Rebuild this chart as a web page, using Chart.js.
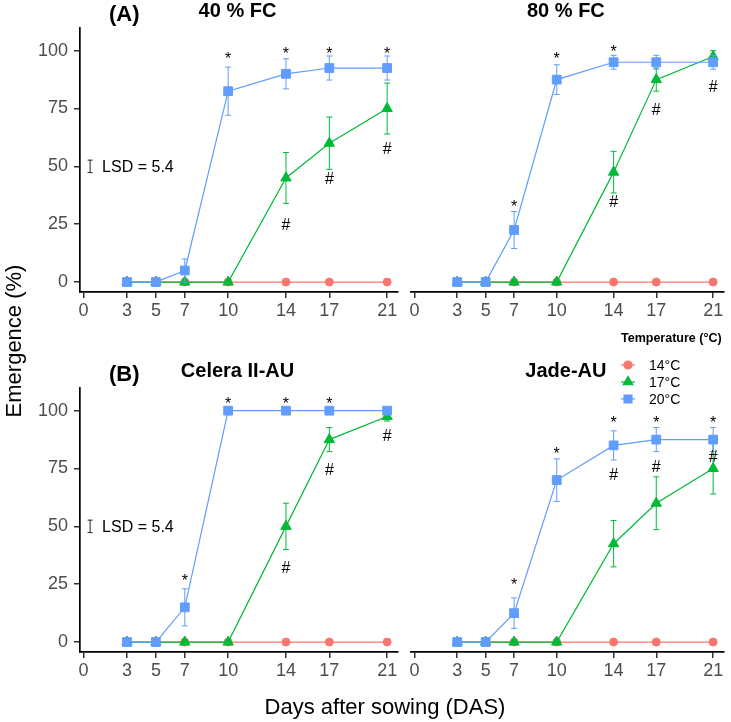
<!DOCTYPE html>
<html><head><meta charset="utf-8">
<script src="https://cdn.jsdelivr.net/npm/chart.js@4.4.1/dist/chart.umd.min.js"></script>
<style>
html,body{margin:0;padding:0;background:#fff;width:731px;height:722px;overflow:hidden}
canvas{position:absolute;left:0;top:0}
</style></head><body>
<canvas id="c0" width="731" height="722"></canvas>
<canvas id="c1" width="731" height="722"></canvas>
<canvas id="c2" width="731" height="722"></canvas>
<canvas id="c3" width="731" height="722"></canvas>
<script>
// ---------- data ----------
const days = [3, 5, 7, 10, 14, 17, 21];
const xTicks = [0, 3, 5, 7, 10, 14, 17, 21];
const yTicks = [0, 25, 50, 75, 100];
const seriesNames = ['14°C', '17°C', '20°C'];
const panelTags = ['(A)', '', '(B)', ''];
const panelTitles = ['40 % FC', '80 % FC', 'Celera II-AU', 'Jade-AU'];
const lsdValue = 5.4;
const lsdCenter = 50;

// (A) 40 % FC
const a14 = [0, 0, 0, 0, 0, 0, 0];
const a17 = [0, 0, 0, 0, 45, 60, 75];
const a20 = [0, 0, 5, 82.5, 90, 92.5, 92.5];
const a17Err = [0, 0, 0, 0, 11, 11.3, 11];
const a20Err = [0, 0, 5, 10.4, 6.5, 5.2, 5.2];
const aStarX = [10, 14, 17, 21];
const aStarY = [98.3, 100.4, 100.4, 100.4];
const aHashX = [14, 17, 21];
const aHashY = [24.8, 45, 58];

// 80 % FC
const b14 = [0, 0, 0, 0, 0, 0, 0];
const b17 = [0, 0, 0, 0, 47.5, 87.5, 97.5];
const b20 = [0, 0, 22.5, 87.5, 95, 95, 95];
const b17Err = [0, 0, 0, 0, 9, 5, 2.5];
const b20Err = [0, 0, 8, 6.4, 3, 3, 3];
const bStarX = [7, 10, 14];
const bStarY = [34.4, 98.3, 101.4];
const bHashX = [14, 17, 21];
const bHashY = [34.9, 74.5, 84.6];

// (B) Celera II-AU
const c14 = [0, 0, 0, 0, 0, 0, 0];
const c17 = [0, 0, 0, 0, 50, 87.5, 97.5];
const c20 = [0, 0, 15, 100, 100, 100, 100];
const c17Err = [0, 0, 0, 0, 10, 5.2, 2];
const c20Err = [0, 0, 8, 0, 0, 0, 0];
const cStarX = [7, 10, 14, 17];
const cStarY = [28.1, 104.6, 104.6, 104.6];
const cHashX = [14, 17, 21];
const cHashY = [32.5, 74.6, 89.5];

// Jade-AU
const d14 = [0, 0, 0, 0, 0, 0, 0];
const d17 = [0, 0, 0, 0, 42.5, 60, 75];
const d20 = [0, 0, 12.5, 70, 85, 87.5, 87.5];
const d17Err = [0, 0, 0, 0, 10, 11.4, 11];
const d20Err = [0, 0, 6.6, 9.2, 6.3, 5.2, 5.2];
const dStarX = [7, 10, 14, 17, 21];
const dStarY = [26.3, 83.3, 96.4, 96.4, 96.4];
const dHashX = [14, 17, 21];
const dHashY = [72.6, 75.8, 80.1];

// ---------- styling ----------
const FONT = "'Liberation Sans', Arial, Helvetica, sans-serif";
const COLORS = ['#F8766D', '#00BA38', '#619CFF'];
const STYLES = ['circle', 'triangle', 'rect'];
const RADII = [4, 6, 6.2];
const ORDERS = [2, 1, 0];
const MARK_FS = 16;

const panels = [
  {v: [a14, a17, a20], e: [null, a17Err, a20Err], sx: aStarX, sy: aStarY, hx: aHashX, hy: aHashY, lsd: true,
   area: {l: 80, r: 398, t: 28, b: 292}, yAxis: true},
  {v: [b14, b17, b20], e: [null, b17Err, b20Err], sx: bStarX, sy: bStarY, hx: bHashX, hy: bHashY, lsd: false,
   area: {l: 411, r: 729, t: 28, b: 292}, yAxis: false},
  {v: [c14, c17, c20], e: [null, c17Err, c20Err], sx: cStarX, sy: cStarY, hx: cHashX, hy: cHashY, lsd: true,
   area: {l: 80, r: 398, t: 388, b: 652}, yAxis: true},
  {v: [d14, d17, d20], e: [null, d17Err, d20Err], sx: dStarX, sy: dStarY, hx: dHashX, hy: dHashY, lsd: false,
   area: {l: 411, r: 729, t: 388, b: 652}, yAxis: false, legend: true}
];

const W = 731, H = 722, XH = 40, YW = 80;

const errPlugin = {
  id: 'errbars',
  afterDatasetDraw(chart, args) {
    const ds = chart.data.datasets[args.index];
    if (!ds.err) return;
    const ctx = chart.ctx, xs = chart.scales.x, ys = chart.scales.y;
    ctx.save();
    ctx.strokeStyle = ds.borderColor;
    ctx.lineWidth = 1;
    ds.data.forEach((pt, i) => {
      const e = ds.err[i];
      if (!e) return;
      const px = xs.getPixelForValue(pt.x);
      const y1 = ys.getPixelForValue(pt.y + e);
      const y2 = ys.getPixelForValue(pt.y - e);
      ctx.beginPath();
      ctx.moveTo(px, y1); ctx.lineTo(px, y2);
      ctx.moveTo(px - 3, y1); ctx.lineTo(px + 3, y1);
      ctx.moveTo(px - 3, y2); ctx.lineTo(px + 3, y2);
      ctx.stroke();
    });
    ctx.restore();
  }
};

const annoPlugin = {
  id: 'anno',
  afterDraw(chart, args, opts) {
    const p = opts.panel, idx = opts.idx;
    const ctx = chart.ctx, xs = chart.scales.x, ys = chart.scales.y;
    const ca = chart.chartArea;
    ctx.save();
    ctx.fillStyle = '#000';
    ctx.textAlign = 'center';
    ctx.textBaseline = 'alphabetic';
    ctx.font = MARK_FS + 'px ' + FONT;
    p.sx.forEach((x, i) => {
      ctx.fillText('*', xs.getPixelForValue(x), ys.getPixelForValue(p.sy[i]) + 0.58 * MARK_FS);
    });
    p.hx.forEach((x, i) => {
      ctx.fillText('#', xs.getPixelForValue(x), ys.getPixelForValue(p.hy[i]) + 0.36 * MARK_FS);
    });
    // LSD bar
    if (p.lsd) {
      const bx = xs.getPixelForValue(0.45);
      const y1 = ys.getPixelForValue(lsdCenter + lsdValue / 2);
      const y2 = ys.getPixelForValue(lsdCenter - lsdValue / 2);
      ctx.strokeStyle = '#222';
      ctx.lineWidth = 1;
      ctx.beginPath();
      ctx.moveTo(bx, y1); ctx.lineTo(bx, y2);
      ctx.moveTo(bx - 2.5, y1); ctx.lineTo(bx + 2.5, y1);
      ctx.moveTo(bx - 2.5, y2); ctx.lineTo(bx + 2.5, y2);
      ctx.stroke();
      ctx.textAlign = 'left';
      ctx.textBaseline = 'middle';
      ctx.font = '16px ' + FONT;
      ctx.fillText('LSD = ' + lsdValue, bx + 12, ys.getPixelForValue(lsdCenter) + 1);
    }
    // titles
    ctx.textBaseline = 'alphabetic';
    ctx.font = 'bold 20px ' + FONT;
    ctx.textAlign = 'center';
    ctx.fillText(panelTitles[idx], (ca.left + ca.right) / 2 - 1.5, ca.top - 11.3);
    if (panelTags[idx]) {
      ctx.font = 'bold 22px ' + FONT;
      ctx.textAlign = 'left';
      ctx.fillText(panelTags[idx], ca.left + 29, ca.top - 7.5);
    }
    // legend
    if (p.legend) {
      ctx.font = 'bold 12.5px ' + FONT;
      ctx.textAlign = 'left';
      ctx.textBaseline = 'middle';
      ctx.fillText('Temperature (°C)', 621, 339);
      ctx.font = '14px ' + FONT;
      seriesNames.forEach((s, i) => {
        const y = 365 + i * 17;
        ctx.strokeStyle = COLORS[i];
        ctx.fillStyle = COLORS[i];
        ctx.lineWidth = 1.2;
        ctx.beginPath(); ctx.moveTo(621, y); ctx.lineTo(635, y); ctx.stroke();
        Chart.helpers.drawPoint(ctx, {pointStyle: STYLES[i], radius: [4, 5.5, 5.6][i], rotation: 0, borderWidth: 1}, 628, y);
        ctx.fillStyle = '#000';
        ctx.fillText(s, 649, y + 1);
      });
    }
    // shared axis titles
    if (idx === 0) {
      ctx.fillStyle = '#000';
      ctx.font = '22px ' + FONT;
      ctx.textAlign = 'center';
      ctx.textBaseline = 'alphabetic';
      ctx.fillText('Days after sowing (DAS)', 385, 714);
      ctx.save();
      ctx.translate(21, 341);
      ctx.rotate(-Math.PI / 2);
      ctx.fillText('Emergence (%)', 0, 0);
      ctx.restore();
    }
    ctx.restore();
  }
};

panels.forEach((p, idx) => {
  const datasets = [0, 1, 2].map(k => ({
    label: seriesNames[k],
    data: days.map((d, i) => ({x: d, y: p.v[k][i]})),
    err: p.e[k],
    borderColor: COLORS[k],
    backgroundColor: COLORS[k],
    pointBackgroundColor: COLORS[k],
    pointBorderColor: COLORS[k],
    pointStyle: STYLES[k],
    pointRadius: RADII[k],
    pointBorderWidth: 1,
    borderWidth: 1.2,
    tension: 0,
    order: ORDERS[k],
    clip: false
  }));
  const a = p.area;
  new Chart(document.getElementById('c' + idx), {
    type: 'line',
    data: {datasets},
    options: {
      responsive: false,
      animation: false,
      devicePixelRatio: 1,
      events: [],
      layout: {padding: {
        left: p.yAxis ? a.l - YW : a.l,
        right: W - a.r,
        top: a.t,
        bottom: H - a.b - XH
      }},
      plugins: {legend: {display: false}, tooltip: {enabled: false}, anno: {panel: p, idx}},
      scales: {
        x: {
          type: 'linear', min: -0.25, max: 21.75,
          afterBuildTicks: s => { s.ticks = xTicks.map(v => ({value: v})); },
          afterFit: s => { s.height = XH; },
          grid: {drawOnChartArea: false, drawTicks: true, tickLength: 6, color: '#333', lineWidth: 1.5},
          border: {display: true, color: '#000', width: 1.7},
          ticks: {color: '#4D4D4D', font: {family: FONT, size: 18}, padding: 2, autoSkip: false, maxRotation: 0,
                  callback: v => String(v)}
        },
        y: {
          type: 'linear', min: -4.3, max: 109.8, display: p.yAxis,
          afterBuildTicks: s => { s.ticks = yTicks.map(v => ({value: v})); },
          afterFit: s => { s.width = p.yAxis ? YW : 0; },
          grid: {drawOnChartArea: false, drawTicks: true, tickLength: 6, color: '#333', lineWidth: 1.5},
          border: {display: true, color: '#000', width: 1.7},
          ticks: {color: '#4D4D4D', font: {family: FONT, size: 18}, padding: 6, callback: v => String(v)}
        }
      }
    },
    plugins: [errPlugin, annoPlugin]
  });
});
</script>
</body></html>
